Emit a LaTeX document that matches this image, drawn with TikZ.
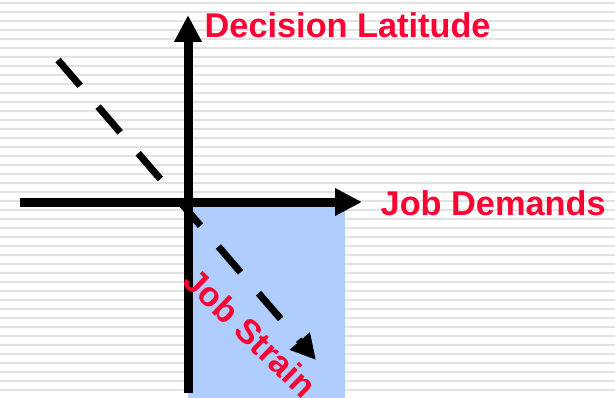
\documentclass[tikz,border=0pt]{standalone}
\usepackage{fontspec}
\setmainfont{Liberation Sans}
\usetikzlibrary{arrows.meta}
\definecolor{Red}{HTML}{FF0033}
\definecolor{Sky}{HTML}{B0CDFF}
\definecolor{Rule}{HTML}{E2E2E2}
\tikzset{
  axisline/.style={line width=9pt,-{Triangle[length=27pt,width=26pt]}},
  strainline/.style={line width=7pt,dash pattern=on 34pt off 27.5pt,
    -{Triangle[length=25pt,width=25pt]}},
  axislabel/.style={text=Red,font=\fontsize{34.3}{40}\selectfont\bfseries,
    inner sep=0pt,anchor=base west}
}

\begin{document}
\begin{tikzpicture}[x=1pt,y=-1pt]
        \useasboundingbox (0,0) rectangle (615,398);
        % striped background
        \foreach \k in {0,...,44}
          \fill[Rule] (0,2+9*\k) rectangle (615,4+9*\k);
        \fill[Sky] (188,202) rectangle (345,398);
        % axes
        \coordinate (xs) at (20,202);
        \coordinate (xe) at (362,202);
        \coordinate (ys) at (188,393);
        \coordinate (ye) at (188,15);
        \draw[axisline] (xs)--(xe);
        \draw[axisline] (ys)--(ye);
        % strain direction
        \coordinate (ss) at (58,60);
        \coordinate (se) at (316,360);
        \draw[strainline] (ss)--(se);
        \node[axislabel] (lat) at (204.5,37.3) {Decision Latitude};
        \node[axislabel] (dem) at (380.5,215) {Job Demands};
        \node[axislabel,rotate=-44] (strain) at (181.6,283.3) {Job Strain};
      \end{tikzpicture}
\end{document}
